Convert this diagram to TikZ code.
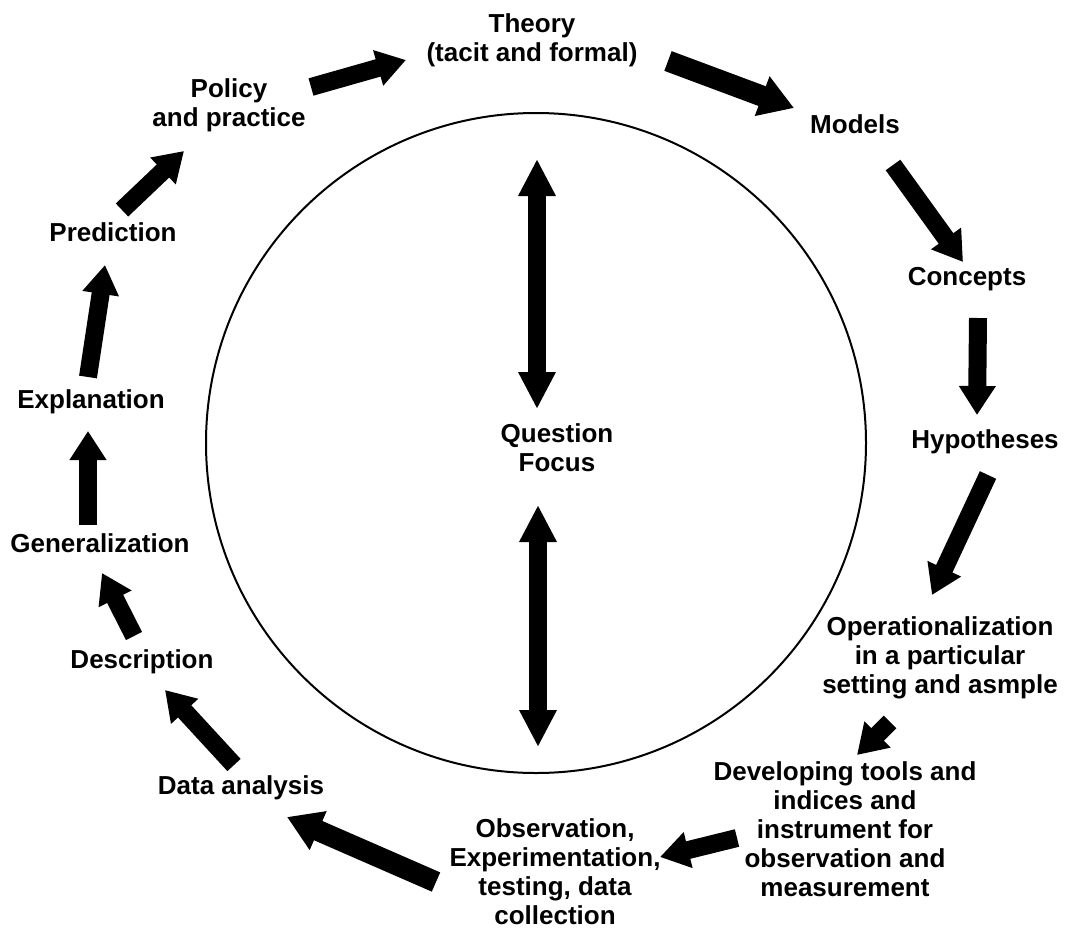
\documentclass[tikz,border=0pt]{standalone}
\usepackage{fontspec}
\setmainfont{Liberation Sans}
\usetikzlibrary{arrows.meta,calc}

\begin{document}
\begin{tikzpicture}[x=1pt,y=-1pt,
  label/.style={align=center,inner sep=0pt,font=\bfseries\fontsize{26}{29}\selectfont},
  flow/.style={line width=18pt,-{Triangle[width=35pt,length=29pt]}},
  bigflow/.style={line width=21pt,-{Triangle[width=40pt,length=34pt]}},
  twoway/.style={line width=18pt,{Triangle[width=35pt,length=37pt]}-{Triangle[width=35pt,length=37pt]}}]

\fill[white] (0,0) rectangle (1065,934);
\useasboundingbox (0,0) rectangle (1065,934);

% central circle
\node[circle,draw,line width=2pt,minimum size=660pt,inner sep=0pt] (ring) at (536,443) {};

% stages round the cycle
\node[label] (theory)   at (532,40)  {Theory\\(tacit and formal)};
\node[label] (models)   at (855,124) {Models};
\node[label] (concepts) at (967,279) {Concepts};
\node[label] (hypo)     at (985,442) {Hypotheses};
\node[label] (oper)     at (940,658) {Operationalization\\in a particular\\setting and asmple};
\node[label] (dev)      at (845,829) {Developing tools and\\indices and\\instrument for\\observation and\\measurement};
\node[label] (obs)      at (555,872) {Observation,\\Experimentation,\\testing, data\\collection};
\node[label] (data)     at (241,788) {Data analysis};
\node[label] (desc)     at (142,662) {Description};
\node[label] (gen)      at (100,543) {Generalization};
\node[label] (expl)     at (91,402)  {Explanation};
\node[label] (pred)     at (113,232) {Prediction};
\node[label] (policy)   at (229,105) {Policy\\and practice};
\node[label] (qf)       at (557,448) {Question\\Focus};

% cycle arrows
\draw[flow]    ($(policy)+(82,-18)$)  -- ($(theory)+(-126,20)$);
\draw[bigflow] ($(theory)+(136,21)$)  -- ($(models)+(-61,-16)$);
\draw[flow]    ($(models)+(38,41)$)   -- ($(concepts)+(-4,-17)$);
\draw[flow]    ($(concepts)+(11,39)$) -- ($(hypo)+(-8,-27)$);
\draw[flow]    ($(hypo)+(3,33)$)      -- ($(oper)+(-8,-63)$);
\draw[flow]    ($(oper)+(-50,64)$)    -- ($(dev)+(12,-74)$);
\draw[flow]    ($(dev)+(-108,9)$)     -- ($(obs)+(105,-15)$);
\draw[bigflow] ($(obs)+(-119,10)$)    -- ($(data)+(46,29)$);
\draw[flow]    ($(data)+(-7,-23)$)    -- ($(desc)+(23,28)$);
\draw[flow]    ($(desc)+(-8,-26)$)    -- ($(gen)+(2,30)$);
\draw[flow]    ($(gen)+(-12,-18)$)    -- ($(expl)+(-3,29)$);
\draw[flow]    ($(expl)+(-3,-25)$)    -- ($(pred)+(-8,33)$);
\draw[flow]    ($(pred)+(9,-22)$)     -- ($(policy)+(-45,46)$);

% two-way arrows to the question focus
\draw[twoway] ($(qf)+(-20,-289)$) -- ($(qf)+(-20,-39)$);
\draw[twoway] ($(qf)+(-19,57)$)   -- ($(qf)+(-19,299)$);
\end{tikzpicture}
\end{document}
